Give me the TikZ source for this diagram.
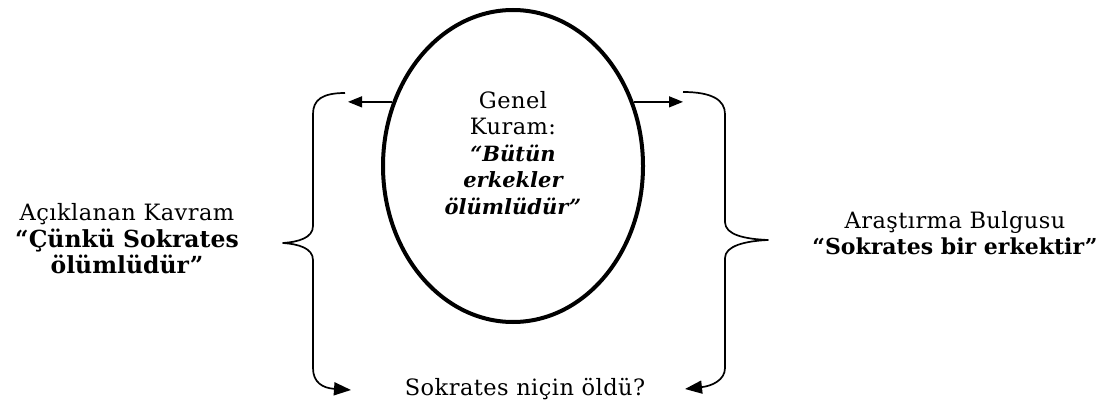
\documentclass[tikz,border=0pt]{standalone}
\usepackage{fontspec}
\setmainfont{DejaVu Serif}
\newfontfamily\spacedserif[LetterSpace=2]{DejaVu Serif}
\newcommand\bq[2][22]{{\normalfont\bfseries\fontsize{#1}{27}\selectfont #2}}
\newcommand\bqi[1]{{\normalfont\bfseries\itshape\fontsize{21}{27}\selectfont #1}}
\usetikzlibrary{shapes.geometric,arrows.meta}
\tikzset{
  txt/.style={align=center,font=\spacedserif\fontsize{22.5}{26.5}\selectfont,inner sep=0pt},
  bracepath/.style={line width=1.7pt,line join=round},
  smalltip/.style={line width=1.3pt,-{Triangle[length=14pt,width=11pt]}},
  bigtip/.style={-{Triangle[length=17pt,width=13pt]}},
  oval/.style={ellipse,draw,line width=4pt,minimum width=260pt,minimum height=312pt,inner sep=0pt}
}
\begin{document}
\begin{tikzpicture}[x=1pt,y=-1pt]
\useasboundingbox[fill=white] (0,0) rectangle (1107,406);
\node[oval] (e) at (513,166) {};
\node[txt] (gk) at (513,153) {Genel\\Kuram:\\\bqi{“Bütün}\\\bqi{erkekler}\\\bqi{ölümlüdür”}};
\node[txt] (lk) at (127,239) {Açıklanan Kavram\\\bq[23.5]{“Çünkü Sokrates}\\\bq[23.5]{ölümlüdür”}};
\node[txt] (rk) at (955,233) {Araştırma Bulgusu\\\bq{“Sokrates bir erkektir”}};
\node[txt] (q) at (525,389) {Sokrates niçin öldü?};
\coordinate (lt) at (348,102);
\coordinate (rt) at (683,102);
\draw[smalltip] (e.152) -- (e.152 -| lt);
\draw[smalltip] (e.28) -- (e.28 -| rt);
% left brace
\draw[bracepath,bigtip] (345,93) .. controls (322,93) and (313,100) .. (313,114)
  -- (313,226) .. controls (313,238) and (298,242) .. (283,243)
  .. controls (298,244) and (313,248) .. (313,260)
  -- (313,368) .. controls (313,382) and (322,388) .. (351,390);
% right brace
\draw[bracepath,bigtip] (683,92) .. controls (712,92) and (725,100) .. (725,114)
  -- (725,222) .. controls (725,235) and (745,239) .. (768,240)
  .. controls (745,241) and (725,246) .. (725,258)
  -- (725,368) .. controls (725,380) and (712,386) .. (685,389);
\end{tikzpicture}
\end{document}
